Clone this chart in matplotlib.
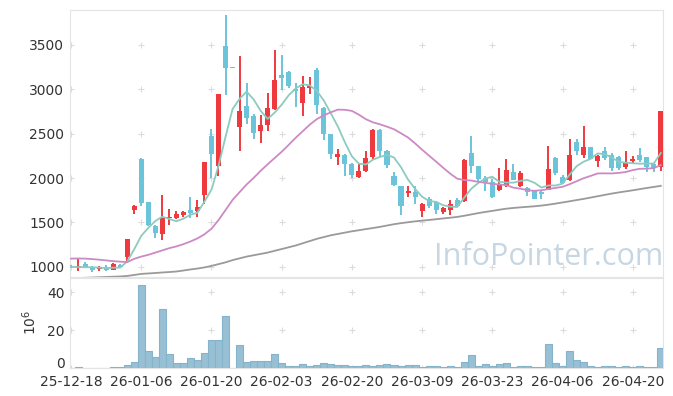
import matplotlib
matplotlib.use("Agg")
import matplotlib.pyplot as plt
import matplotlib.transforms as mtransforms
import numpy as np

# 일봉 OHLC (원), 거래량 (백만 주)
opens = [1010, 985, 1035, 1000, 975, 1000, 965, 1020, 1110, 1640,
         2210, 1725, 1460, 1375, 1548, 1550, 1586, 1642, 1630, 1805,
         2475, 2140, 3490, 3250, 2570, 2815, 2700, 2525, 2593, 2780,
         3160, 3200, 3005, 2850, 3020, 3220, 2790, 2495, 2240, 2265,
         2160, 2017, 2075, 2240, 2545, 2305, 2025, 1905, 1833, 1840,
         1625, 1760, 1725, 1623, 1635, 1755, 1736, 2285, 2135, 2000,
         1955, 1860, 1910, 2070, 1910, 1888, 1850, 1845, 1867, 2225,
         2017, 1975, 2405, 2255, 2345, 2187, 2306, 2262, 2237, 2122,
         2195, 2262, 2237, 2160, 2120]
highs = [1020, 1085, 1055, 1005, 1005, 1025, 1045, 1030, 1310, 1695,
         2225, 1725, 1470, 1810, 1650, 1630, 1630, 1790, 1755, 2185,
         2550, 2950, 3840, 3250, 3370, 3070, 2720, 2710, 2955, 3445,
         3385, 3210, 3075, 3145, 3140, 3240, 2800, 2500, 2330, 2270,
         2170, 2175, 2300, 2550, 2550, 2320, 2065, 1910, 1905, 1910,
         1720, 1790, 1740, 1670, 1755, 1770, 2210, 2475, 2140, 2025,
         1990, 2110, 2215, 2160, 2080, 1900, 1860, 1870, 2360, 2240,
         2040, 2440, 2440, 2590, 2350, 2255, 2350, 2280, 2250, 2300,
         2245, 2340, 2240, 2165, 2760]
lows = [985, 950, 985, 945, 955, 955, 960, 985, 1060, 1600,
        1690, 1460, 1325, 1300, 1475, 1540, 1560, 1550, 1565, 1710,
        2000, 2020, 2940, 3240, 2310, 2605, 2440, 2400, 2525, 2770,
        2990, 3020, 2800, 2700, 2945, 2720, 2430, 2215, 2150, 2025,
        2000, 2005, 2065, 2205, 2240, 2110, 1910, 1580, 1790, 1710,
        1565, 1665, 1597, 1600, 1585, 1680, 1730, 2055, 1955, 1850,
        1780, 1855, 1900, 1975, 1900, 1800, 1760, 1765, 1860, 2040,
        1935, 1970, 2260, 2225, 2210, 2125, 2200, 2080, 2090, 2100,
        2170, 2180, 2070, 2070, 2085]
closes = [995, 1010, 990, 965, 1000, 965, 1030, 995, 1310, 1690,
          1720, 1475, 1385, 1555, 1560, 1590, 1620, 1604, 1675, 2180,
          2270, 2945, 3245, 3245, 2757, 2680, 2510, 2600, 2790, 3105,
          3130, 3040, 2985, 3025, 3040, 2825, 2495, 2270, 2275, 2155,
          2030, 2080, 2225, 2545, 2310, 2150, 1925, 1680, 1850, 1785,
          1710, 1680, 1635, 1660, 1705, 1690, 2205, 2135, 1985, 1960,
          1785, 1925, 2090, 1980, 2062, 1840, 1762, 1822, 2100, 2057,
          1942, 2262, 2306, 2355, 2217, 2243, 2231, 2111, 2111, 2167,
          2217, 2205, 2120, 2110, 2757]
volume = [0, 0.5, 0, 0, 0, 0, 0.5, 0.5, 1.4, 3.2,
          43.8, 9.2, 5.9, 31.2, 7.6, 2.7, 2.7, 5.4, 4.1, 8.1,
          15.0, 15.0, 27.6, 0, 11.9, 3.2, 3.8, 3.8, 3.8, 7.6,
          2.7, 0.9, 0.9, 2.2, 0.9, 1.6, 2.7, 2.2, 1.6, 1.6,
          0.9, 0.9, 1.6, 1.2, 1.8, 2.2, 1.6, 1.0, 1.6, 1.6,
          0.5, 1.0, 1.0, 0.5, 1.0, 0.5, 3.4, 7.0, 1.1, 2.2,
          1.0, 2.2, 2.7, 0.5, 1.0, 1.0, 0.5, 0.5, 12.6, 2.7,
          1.0, 9.2, 4.3, 3.4, 1.0, 0.5, 1.0, 1.0, 0.5, 1.0,
          0.5, 1.0, 0.5, 0.5, 10.4]

# 이동평균 (5/20/60일) - 차트에서 읽은 값
ma5 = [1000, 997, 995, 995, 992, 986, 990, 991, 1060, 1198,
       1349, 1438, 1516, 1565, 1539, 1513, 1542, 1586, 1610, 1734,
       1870, 2135, 2463, 2777, 2892, 2974, 2887, 2758, 2667, 2737,
       2827, 2933, 3010, 3057, 3044, 2983, 2874, 2731, 2581, 2404,
       2245, 2162, 2153, 2207, 2238, 2262, 2231, 2122, 1983, 1878,
       1790, 1741, 1732, 1694, 1678, 1674, 1779, 1879, 1944, 1995,
       2014, 1958, 1949, 1948, 1968, 1979, 1947, 1893, 1917, 1916,
       1937, 2037, 2133, 2184, 2216, 2277, 2270, 2231, 2183, 2173,
       2167, 2162, 2164, 2164, 2282]
ma20 = [1092, 1094, 1092, 1087, 1080, 1072, 1064, 1058, 1052, 1090,
        1115, 1135, 1160, 1185, 1210, 1230, 1255, 1285, 1320, 1366,
        1429, 1526, 1639, 1753, 1841, 1927, 2001, 2081, 2155, 2226,
        2296, 2374, 2454, 2528, 2602, 2664, 2707, 2741, 2771, 2769,
        2757, 2714, 2663, 2628, 2606, 2579, 2550, 2504, 2457, 2391,
        2320, 2252, 2185, 2116, 2050, 1993, 1978, 1972, 1957, 1947,
        1935, 1927, 1921, 1892, 1880, 1864, 1856, 1863, 1876, 1889,
        1901, 1930, 1964, 1998, 2024, 2052, 2053, 2052, 2058, 2068,
        2090, 2104, 2106, 2112, 2147]
ma60 = [870, 873, 876, 879, 882, 885, 888, 891, 897, 908,
        920, 925, 930, 936, 941, 947, 958, 970, 980, 993,
        1010, 1030, 1050, 1075, 1095, 1115, 1130, 1145, 1160, 1180,
        1200, 1220, 1240, 1265, 1290, 1315, 1335, 1355, 1370, 1385,
        1400, 1412, 1425, 1437, 1450, 1465, 1480, 1492, 1502, 1512,
        1520, 1528, 1536, 1545, 1553, 1562, 1575, 1590, 1605, 1618,
        1630, 1643, 1655, 1663, 1670, 1676, 1682, 1690, 1700, 1712,
        1725, 1738, 1752, 1765, 1780, 1795, 1810, 1825, 1838, 1850,
        1862, 1875, 1888, 1900, 1912]

tick_pos = [0, 10, 20, 30, 40, 50, 60, 70, 80]
tick_labels = ["25-12-18", "26-01-06", "26-01-20", "26-02-03", "26-02-20",
               "26-03-09", "26-03-23", "26-04-06", "26-04-20"]
price_ticks = [1000, 1500, 2000, 2500, 3000, 3500]
vol_ticks = [0, 20, 40]

UP, DOWN = "#ee3a3f", "#6cc4da"
SPINE = "#e4e4e4"

o, h, l, c = map(np.array, (opens, highs, lows, closes))
x = np.arange(len(o))
col = np.where(c >= o, UP, DOWN)

fig = plt.figure(figsize=(6.73, 3.96), dpi=100)
ax = fig.add_axes([0.104, 0.3005, 0.881, 0.6745])
axv = fig.add_axes([0.104, 0.0707, 0.881, 0.2283], sharex=ax)

# 캔들
ax.vlines(x, l, h, colors=col, linewidth=1.4, zorder=3)
body = np.maximum(np.abs(c - o), 8)
ax.bar(x, body, bottom=np.minimum(o, c), width=0.72, color=col, zorder=4)

ax.plot(x, ma5, color="#8ccbbf", linewidth=1.3, zorder=5)
ax.plot(x, ma20, color="#cc8ac5", linewidth=1.3, zorder=5)
ax.plot(x, ma60, color="#9a9a9a", linewidth=1.3, zorder=5)

ax.text(0.808, 0.075, "InfoPointer.com", transform=ax.transAxes,
        ha="center", va="center", fontsize=22, color="#c6d7e3",
        family="Open Sans", zorder=1)

axv.bar(x, volume, width=1.0, color="#98c0d4", edgecolor="#86b3cc",
        linewidth=0.8, zorder=3)

ax.set_xlim(-0.15, 84.3)
ax.set_ylim(885, 3895)
axv.set_ylim(0, 47.6)

for a, yt in ((ax, price_ticks), (axv, vol_ticks)):
    a.set_yticks(yt)
    gx, gy = np.meshgrid(tick_pos, yt)
    a.plot(gx.ravel(), gy.ravel(), "+", color="#dcdcdc", markersize=5,
           markeredgewidth=0.8, zorder=0)
    for s in a.spines.values():
        s.set_color(SPINE)
    a.tick_params(length=0, labelsize=10, labelcolor="#333333", pad=4)

ax.tick_params(labelbottom=False)
axv.set_xticks(tick_pos)
axv.set_xticklabels(tick_labels)
axv.tick_params(axis="x", pad=5)
axv.set_ylabel(r"$10^6$", fontsize=10, color="#333333", labelpad=6)

# 거래량 '0' 라벨을 살짝 올려 날짜 라벨과 겹치지 않게
zero_lbl = axv.get_yticklabels()[0]
zero_lbl.set_transform(zero_lbl.get_transform() +
                       mtransforms.ScaledTranslation(0, 4 / 72, fig.dpi_scale_trans))

fig.savefig("out.png", dpi=100)
